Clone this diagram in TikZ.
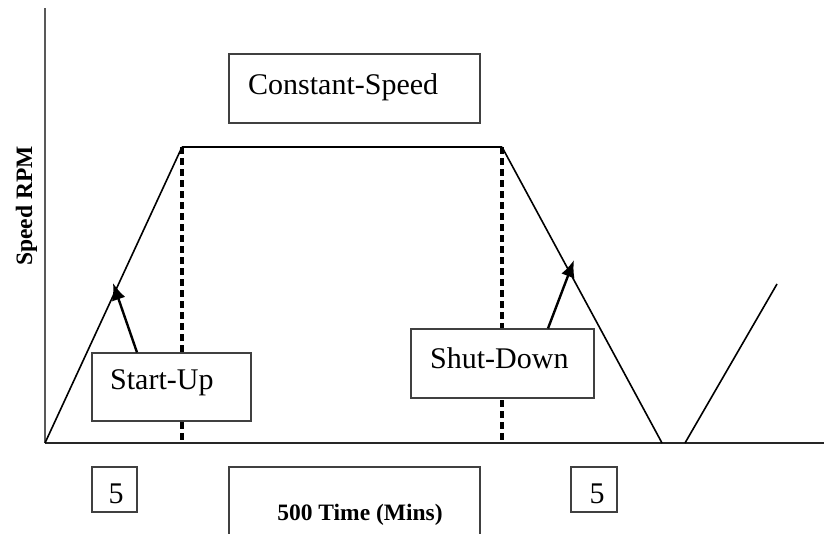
\documentclass[tikz,border=0pt]{standalone}
\usepackage{fontspec}
\setmainfont{Liberation Serif}
\usetikzlibrary{arrows.meta}
\begin{document}
\begin{tikzpicture}[x=1pt,y=-1pt,
  boxline/.style={draw=black!75,line width=1.2pt},
  curve/.style={draw=black,line width=1.6pt},
  flat/.style={draw=black,line width=2.6pt},
  guide/.style={draw=black,line width=3.2pt,dash pattern=on 7pt off 4pt},
  lbl/.style={font=\fontsize{30}{36}\selectfont,inner sep=0pt,anchor=base west},
  blbl/.style={font=\fontsize{23.5}{28}\selectfont\bfseries,inner sep=0pt},
  pointer/.style={draw=black,line width=2.4pt,-{Latex[length=17pt,width=14pt]}}]
\useasboundingbox (0,0) rectangle (824,533);
% axes
\coordinate (ytop) at (45,8);
\coordinate (O) at (45,443);
\coordinate (xend) at (824,443);
\draw[draw=black!65,line width=1.6pt] (ytop) -- (O);
\draw[draw=black!85,line width=1.5pt] (O) -- (xend);
% profile
\coordinate (A) at (182,147);
\coordinate (B) at (502,147);
\coordinate (C) at (662,443);
\coordinate (D) at (685,443);
\coordinate (E) at (777,284);
\coordinate (Ab) at (182,443);
\coordinate (Bb) at (502,443);
\draw[guide] (A) -- (Ab);
\draw[guide] (B) -- (Bb);
\draw[curve] (O) -- (A);
\draw[flat] (A) -- (B);
\draw[curve] (B) -- (C);
\draw[curve] (D) -- (E);
% boxes
\node[boxline,minimum width=251pt,minimum height=69pt,inner sep=0pt] (cs) at (354.5,88.5) {};
\node[lbl] (cst) at (248,94) {Constant-Speed};
\node[boxline,fill=white,minimum width=159pt,minimum height=68pt,inner sep=0pt] (su) at (171.5,387) {};
\node[lbl] (sut) at (110,389) {Start-Up};
\node[boxline,fill=white,minimum width=183pt,minimum height=69pt,inner sep=0pt] (sd) at (502.5,363.5) {};
\node[lbl] (sdt) at (430,368) {Shut-Down};
\node[boxline,minimum width=45pt,minimum height=45pt,inner sep=0pt] (f1) at (114.5,489.5) {};
\node[lbl,anchor=base] (f1t) at (116,503) {5};
\node[boxline,minimum width=46pt,minimum height=45pt,inner sep=0pt] (f2) at (594,489.5) {};
\node[lbl,anchor=base] (f2t) at (597,503) {5};
\coordinate (tl) at (229,467);
\coordinate (tr) at (480,467);
\draw[boxline] (229,540) -- (tl) -- (tr) -- (480,540);
\node[blbl,anchor=base] (tt) at (360,520) {500 Time (Mins)};
\node[blbl,anchor=base,rotate=90] (yl) at (32,206) {Speed RPM};
% pointers
\coordinate (sutip) at (113,283);
\coordinate (sdtip) at (574,260);
\draw[pointer] ([xshift=-34.5pt]su.north) -- (sutip);
\draw[pointer] ([xshift=45.5pt]sd.north) -- (sdtip);
\end{tikzpicture}
\end{document}
